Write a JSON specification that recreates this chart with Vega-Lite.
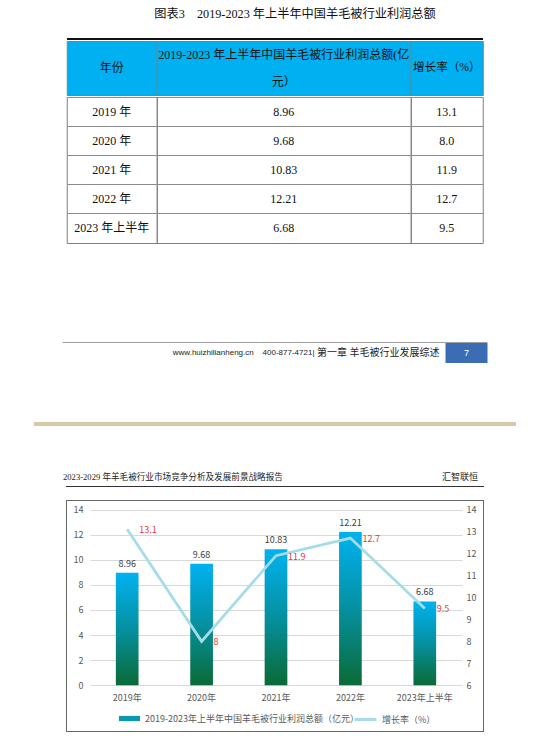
{
 "$schema": "https://vega.github.io/schema/vega-lite/v6.json",
 "background": "white",
 "padding": {"left": 34, "top": 0, "right": 0, "bottom": 0},
 "spacing": 0,
 "center": true,
 "config": {"view": {"stroke": null}, "font": "Noto Sans CJK SC"},
 "datasets": {
  "rows": [
   {"year": "2019年", "yearLabel": "2019 年", "profit": 8.96, "growth": 13.1},
   {"year": "2020年", "yearLabel": "2020 年", "profit": 9.68, "growth": 8.0},
   {"year": "2021年", "yearLabel": "2021 年", "profit": 10.83, "growth": 11.9},
   {"year": "2022年", "yearLabel": "2022 年", "profit": 12.21, "growth": 12.7},
   {"year": "2023年上半年", "yearLabel": "2023 年上半年", "profit": 6.68, "growth": 9.5}
  ],
  "none": []
 },
 "vconcat": [
  {"width": 482, "height": 27, "data": {"values": [{}]}, "mark": {"type": "text", "text": "图表3　2019-2023 年上半年中国羊毛被行业利润总额", "font": "Liberation Serif, Noto Sans CJK SC", "fontSize": 12.2, "dx": 20, "color": "#111"}},
  {"width": 10, "height": 11, "data": {"name": "none"}, "mark": "point"},
  {"width": 416, "height": 2, "data": {"name": "none"}, "mark": "point", "view": {"fill": "#111", "stroke": null}},
  {"hconcat": [
    {"width": 90, "height": 54, "data": {"values": [{}]}, "mark": {"type": "text", "text": "年份", "font": "Liberation Serif, Noto Sans CJK SC", "fontSize": 12, "color": "#111"}, "view": {"fill": "#00B0F0", "stroke": "#7f7f7f"}},
    {"width": 254, "height": 54, "data": {"values": [{}]}, "mark": {"type": "text", "text": ["2019-2023 年上半年中国羊毛被行业利润总额(亿", "元）"], "lineHeight": 27, "dy": -13.5, "font": "Liberation Serif, Noto Sans CJK SC", "fontSize": 12, "color": "#111"}, "view": {"fill": "#00B0F0", "stroke": "#7f7f7f"}},
    {"width": 72, "height": 54, "data": {"values": [{}]}, "mark": {"type": "text", "text": "增长率（%）", "font": "Liberation Serif, Noto Sans CJK SC", "fontSize": 11.6, "color": "#111"}, "view": {"fill": "#00B0F0", "stroke": "#7f7f7f"}}
   ], "spacing": 0, "bounds": "flush"},
  {"hconcat": [
    {"width": 90, "height": 146, "data": {"name": "rows"}, "view": {"stroke": "#7f7f7f"},
     "mark": {"type": "text", "font": "Liberation Serif, Noto Sans CJK SC", "fontSize": 12, "color": "#111"},
     "encoding": {
      "y": {"field": "yearLabel", "type": "nominal", "sort": null, "scale": {"type": "band", "paddingInner": 0, "paddingOuter": 0}, "axis": {"title": null, "labels": false, "ticks": false, "domain": false, "grid": true, "gridColor": "#8c8c8c", "bandPosition": 0}},
      "text": {"field": "yearLabel"}}},
    {"width": 254, "height": 146, "data": {"name": "rows"}, "view": {"stroke": "#7f7f7f"},
     "mark": {"type": "text", "font": "Liberation Serif, Noto Sans CJK SC", "fontSize": 12, "color": "#111"},
     "encoding": {
      "y": {"field": "yearLabel", "type": "nominal", "sort": null, "scale": {"type": "band", "paddingInner": 0, "paddingOuter": 0}, "axis": {"title": null, "labels": false, "ticks": false, "domain": false, "grid": true, "gridColor": "#8c8c8c", "bandPosition": 0}},
      "text": {"field": "profit", "type": "quantitative", "format": ".2f"}}},
    {"width": 72, "height": 146, "data": {"name": "rows"}, "view": {"stroke": "#7f7f7f"},
     "mark": {"type": "text", "font": "Liberation Serif, Noto Sans CJK SC", "fontSize": 12, "color": "#111"},
     "encoding": {
      "y": {"field": "yearLabel", "type": "nominal", "sort": null, "scale": {"type": "band", "paddingInner": 0, "paddingOuter": 0}, "axis": {"title": null, "labels": false, "ticks": false, "domain": false, "grid": true, "gridColor": "#8c8c8c", "bandPosition": 0}},
      "text": {"field": "growth", "type": "quantitative", "format": ".1f"}}}
   ], "spacing": 0, "bounds": "flush"},
  {"width": 10, "height": 98, "data": {"name": "none"}, "mark": "point"},
  {"width": 425, "height": 1, "data": {"name": "none"}, "mark": "point", "view": {"fill": "#a0a0a0", "stroke": null}},
  {"hconcat": [
    {"width": 383, "height": 20, "data": {"values": [{}]},
     "encoding": {"x": {"datum": "R", "type": "nominal", "scale": {"type": "point", "domain": ["L", "R"], "padding": 0}, "axis": null}},
     "layer": [
      {"mark": {"type": "text", "text": "第一章 羊毛被行业发展综述", "align": "right", "dx": -6, "font": "Liberation Serif, Noto Sans CJK SC", "fontSize": 10, "color": "#222"}},
      {"mark": {"type": "text", "text": "www.huizhilianheng.cn\u00a0\u00a0\u00a0\u00a0400-877-4721|", "align": "right", "dx": -131, "font": "Liberation Sans", "fontSize": 8, "color": "#222"}}
     ]},
    {"width": 42, "height": 20, "data": {"values": [{}]}, "mark": {"type": "text", "text": "7", "color": "white", "fontSize": 9, "font": "Liberation Sans"}, "view": {"fill": "#3B6DB4", "stroke": null}}
   ], "spacing": 0, "bounds": "flush"},
  {"width": 10, "height": 59, "data": {"name": "none"}, "mark": "point"},
  {"width": 482, "height": 4, "data": {"name": "none"}, "mark": "point", "view": {"fill": "#D8C8A6", "stroke": null}},
  {"width": 10, "height": 42, "data": {"name": "none"}, "mark": "point"},
  {"width": 418, "height": 18, "data": {"values": [{}]},
   "encoding": {"x": {"datum": "L", "type": "nominal", "scale": {"type": "point", "domain": ["L", "R"], "padding": 0}, "axis": null}},
   "layer": [
    {"mark": {"type": "text", "text": "2023-2029 年羊毛被行业市场竞争分析及发展前景战略报告", "align": "left", "dx": -3, "font": "Liberation Serif, Noto Sans CJK SC", "fontSize": 8.6, "color": "#222"}},
    {"mark": {"type": "text", "text": "汇智联恒", "align": "right", "dx": -6, "font": "Liberation Serif, Noto Sans CJK SC", "fontSize": 9, "color": "#222"}, "encoding": {"x": {"datum": "R", "type": "nominal"}}}
   ]},
  {"width": 418, "height": 1, "data": {"name": "none"}, "mark": "point", "view": {"fill": "#333", "stroke": null}},
  {"width": 10, "height": 13, "data": {"name": "none"}, "mark": "point"},
  {"vconcat": [
    {"width": 418, "height": 1, "data": {"name": "none"}, "mark": "point", "view": {"fill": "#666", "stroke": null}},
    {"hconcat": [
      {"width": 1, "height": 230, "data": {"name": "none"}, "mark": "point", "view": {"fill": "#666", "stroke": null}},
      {"width": 23, "height": 230, "data": {"name": "none"}, "mark": "point"},
      {"width": 372, "height": 230, "data": {"name": "rows"},
       "layer": [
        {"layer": [
          {"mark": {"type": "bar", "fill": {"gradient": "linear", "x1": 0, "y1": 0, "x2": 0, "y2": 1, "stops": [{"offset": 0, "color": "#00B2F0"}, {"offset": 0.5, "color": "#0690A0"}, {"offset": 1, "color": "#0A6A36"}]}},
           "encoding": {
            "x": {"field": "year", "type": "nominal", "sort": null, "title": null, "scale": {"paddingInner": 0.695, "paddingOuter": 0.3475}, "axis": {"title": null, "domain": false, "ticks": false, "labelAngle": 0, "labelColor": "#595959", "labelFontSize": 9, "labelPadding": 8, "offset": -45.5}},
            "y": {"field": "profit", "type": "quantitative", "title": null, "scale": {"domain": [-3.64, 14.68], "nice": false, "zero": false}, "axis": {"title": null, "values": [0, 2, 4, 6, 8, 10, 12, 14], "format": "d", "tickCount": 30, "labelOverlap": false, "domain": false, "ticks": false, "grid": true, "gridColor": "#D9D9D9", "labelColor": "#595959", "labelFontSize": 9, "labelPadding": 7}}}},
          {"mark": {"type": "bar", "opacity": 0},
           "encoding": {
            "x": {"field": "year", "type": "nominal", "sort": null, "title": null},
            "y": {"field": "profit", "type": "quantitative", "title": null},
            "fill": {"datum": "2019-2023年上半年中国羊毛被行业利润总额（亿元）", "scale": {"range": ["#0B98B0"]},
             "legend": {"orient": "none", "legendX": 84, "legendY": 707, "title": null, "symbolType": "M-1,-0.25H1V0.25H-1Z", "symbolSize": 441, "symbolOpacity": 1, "labelFontSize": 9, "labelLimit": 0, "labelColor": "#595959", "labelFont": "Noto Sans CJK SC"}}}},
          {"mark": {"type": "text", "baseline": "bottom", "dy": -4, "fontSize": 9, "color": "#404040"},
           "encoding": {
            "x": {"field": "year", "type": "nominal", "sort": null, "title": null},
            "y": {"field": "profit", "type": "quantitative", "title": null},
            "text": {"field": "profit", "type": "quantitative"}}}
         ]},
        {"layer": [
          {"mark": {"type": "line", "strokeWidth": 2.75},
           "encoding": {
            "x": {"field": "year", "type": "nominal", "sort": null, "title": null},
            "y": {"field": "growth", "type": "quantitative", "title": null, "scale": {"domain": [3.92, 14.389], "nice": false, "zero": false}, "axis": {"orient": "right", "title": null, "values": [6, 7, 8, 9, 10, 11, 12, 13, 14], "format": "d", "tickCount": 30, "labelOverlap": false, "domain": false, "ticks": false, "grid": false, "labelColor": "#595959", "labelFontSize": 9, "labelPadding": 4}},
            "stroke": {"datum": "增长率（%）", "scale": {"range": ["#A6DCE8"]},
             "legend": {"orient": "none", "legendX": 319, "legendY": 707, "title": null, "symbolType": "stroke", "symbolSize": 484, "symbolStrokeWidth": 3, "labelFontSize": 9, "labelLimit": 0, "labelColor": "#595959", "labelFont": "Noto Sans CJK SC"}}}},
          {"mark": {"type": "text", "align": "left", "dx": 12, "dy": 1, "fontSize": 9, "color": "#E8383D"},
           "encoding": {
            "x": {"field": "year", "type": "nominal", "sort": null, "title": null},
            "y": {"field": "growth", "type": "quantitative", "title": null},
            "text": {"field": "growth", "type": "quantitative"}}}
         ]}
       ],
       "resolve": {"scale": {"y": "independent"}}},
      {"width": 21, "height": 230, "data": {"name": "none"}, "mark": "point"},
      {"width": 1, "height": 230, "data": {"name": "none"}, "mark": "point", "view": {"fill": "#666", "stroke": null}}
     ], "spacing": 0, "bounds": "flush"},
    {"width": 418, "height": 1, "data": {"name": "none"}, "mark": "point", "view": {"fill": "#666", "stroke": null}}
   ], "spacing": 0}
 ]
}
